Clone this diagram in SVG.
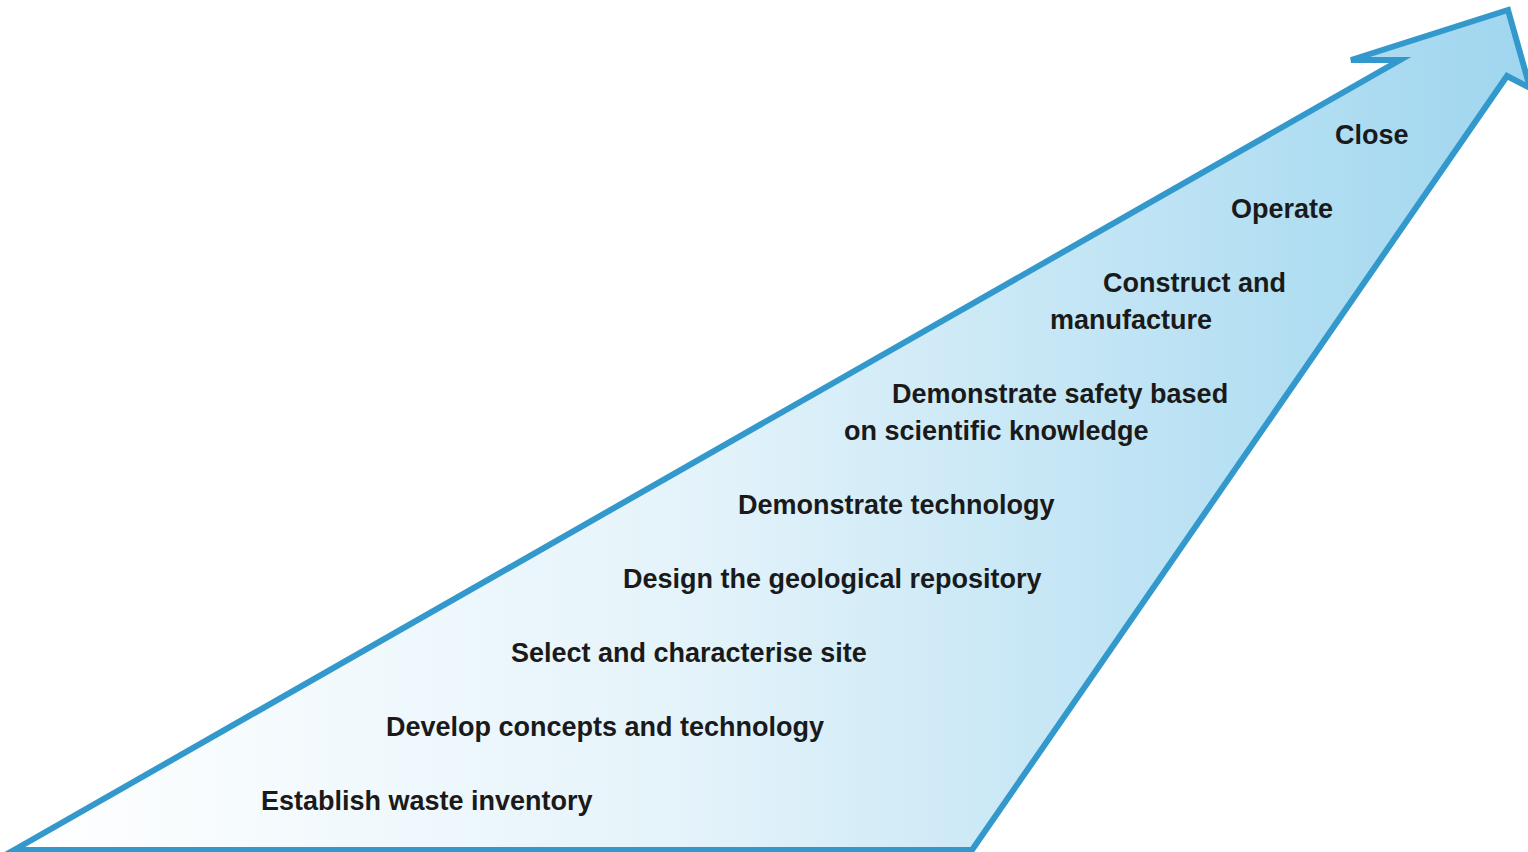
<svg xmlns="http://www.w3.org/2000/svg" width="1528" height="852" viewBox="0 0 1528 852">
<defs>
<linearGradient id="g" x1="14" y1="0" x2="1528" y2="0" gradientUnits="userSpaceOnUse">
<stop offset="0" stop-color="#ffffff"/>
<stop offset="0.45" stop-color="#e4f3fa"/>
<stop offset="1" stop-color="#9fd6ef"/>
</linearGradient>
</defs>
<style>
.lbl{font-family:"Liberation Sans",Arial,sans-serif;font-weight:bold;font-size:27px;fill:#1a1a1a}
</style>
<g id="arrow">
<polygon points="14,850 1400,60 1351,60 1508,10 1530,88 1507,76 972,850" fill="url(#g)" stroke="#3399cc" stroke-width="6" stroke-linejoin="miter"/>
</g>
<g id="labels">
<text class="lbl" x="1335" y="144">Close</text>
<text class="lbl" x="1231" y="218">Operate</text>
<text class="lbl" x="1103" y="292">Construct and</text>
<text class="lbl" x="1050" y="329">manufacture</text>
<text class="lbl" x="892" y="403">Demonstrate safety based</text>
<text class="lbl" x="844" y="440">on scientific knowledge</text>
<text class="lbl" x="738" y="514">Demonstrate technology</text>
<text class="lbl" x="623" y="588">Design the geological repository</text>
<text class="lbl" x="511" y="662">Select and characterise site</text>
<text class="lbl" x="386" y="736">Develop concepts and technology</text>
<text class="lbl" x="261" y="810">Establish waste inventory</text>
</g>
</svg>
